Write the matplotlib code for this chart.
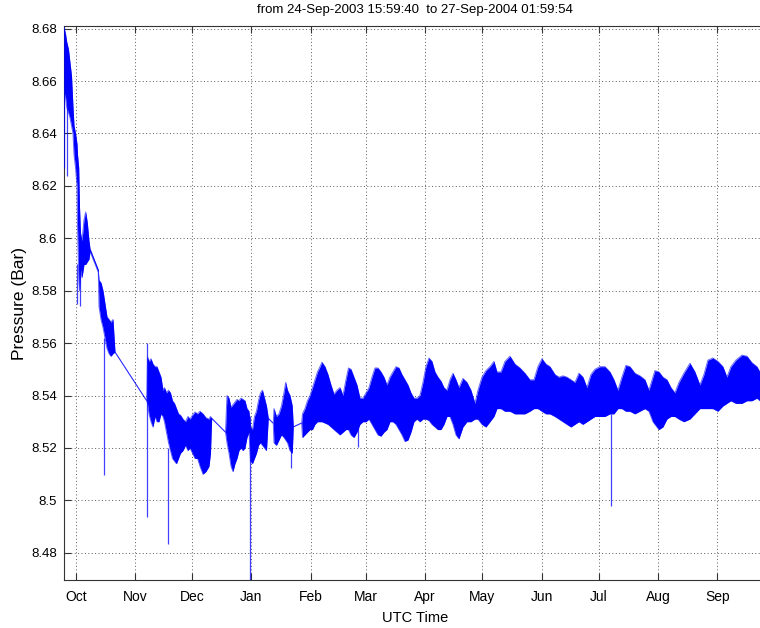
import numpy as np
import matplotlib
matplotlib.use("Agg")
import matplotlib.pyplot as plt

plt.rcParams['font.family'] = ['Liberation Sans', 'DejaVu Sans']

# Record start / end
record_start = '2003-09-24T15:59:40'
record_end = '2004-09-27T01:59:54'

# Elapsed days since record start, with the upper / lower envelope of the
# pressure signal (bar). Equal upper/lower values mark edges of data gaps.
elapsed_days = [
    0.05, 1.00, 1.62, 2.57, 3.35, 4.14, 4.92, 5.45, 6.23, 7.02, 7.28, 7.91, 8.33,
    8.85, 9.64, 10.68, 11.57, 12.41, 13.30, 13.83,
    18.17, 18.54, 19.59, 20.63, 21.68, 22.73, 23.78, 24.82, 25.87, 26.92,
    43.52, 43.94, 44.72, 45.77, 46.82, 47.87, 48.91, 49.96, 51.01, 52.06, 52.84,
    53.89, 54.94, 55.98, 57.03, 58.08, 59.13, 60.17, 61.22, 62.53, 63.84, 65.15,
    66.20, 67.50, 68.81, 70.12, 71.43, 73.00, 74.57, 76.15, 76.93, 77.56,
    84.79, 85.57, 86.62, 87.67, 88.71, 89.76, 90.81, 91.86, 92.90, 93.95, 95.00,
    96.05, 97.09, 97.88, 98.93, 99.97, 101.02, 102.07, 103.12, 104.16, 105.21,
    106.26, 107.20,
    109.82, 110.19, 111.49, 112.80, 114.11, 115.42, 116.31, 117.26, 118.57,
    119.77, 120.29,
    124.69, 125.11, 126.42, 127.73, 129.04, 130.35, 131.66, 132.97, 134.28,
    135.32, 136.89, 138.47, 140.04, 141.61, 143.18, 144.75, 146.32, 147.89,
    149.20, 150.51, 152.08, 153.65, 155.22, 156.80, 158.37, 159.94, 161.51,
    163.08, 164.65, 166.22, 167.79, 169.36, 170.94, 172.51, 174.08, 175.65,
    177.22, 178.79, 180.36, 181.93, 183.50, 185.07, 186.65, 188.22, 189.79,
    191.36, 192.93, 194.50, 196.07, 197.64, 199.22, 200.79, 202.36, 203.93,
    205.50, 207.07, 209.17, 211.26, 213.35, 215.45, 217.02, 219.12, 221.21,
    223.31, 225.40, 226.97, 229.07, 231.16, 233.78, 236.40, 239.02, 241.64,
    244.25, 246.35, 248.44, 250.54, 252.63, 254.73, 257.35, 259.44, 261.54,
    263.63, 265.73, 267.82, 269.92, 272.01, 274.10, 276.20, 278.29, 280.91,
    283.53, 286.15, 288.24, 290.34, 292.43, 294.53, 296.62, 299.24, 301.86,
    304.48, 306.57, 308.67, 309.72, 311.81, 313.91, 316.00, 318.10, 320.19,
    322.29, 324.90, 328.05, 330.66, 333.28, 335.38, 337.47, 340.09, 342.71,
    345.33, 347.42, 349.52, 352.14, 355.28, 357.90, 360.52, 363.13, 364.70,
    368.37,
]

pressure_high = [
    8.681, 8.678, 8.675, 8.672, 8.667, 8.662, 8.650, 8.643, 8.640, 8.636, 8.632,
    8.627, 8.612, 8.602, 8.599, 8.607, 8.610, 8.606, 8.599, 8.596,
    8.588, 8.584, 8.583, 8.580, 8.575, 8.570, 8.569, 8.568, 8.569, 8.5566,
    8.538, 8.5547, 8.553, 8.554, 8.552, 8.551, 8.551, 8.549, 8.547, 8.542, 8.543,
    8.541, 8.542, 8.541, 8.538, 8.537, 8.535, 8.533, 8.5325, 8.531, 8.530, 8.532,
    8.531, 8.5325, 8.5337, 8.533, 8.534, 8.533, 8.5315, 8.531, 8.532, 8.5313,
    8.526, 8.540, 8.539, 8.5355, 8.5365, 8.5375, 8.5385, 8.538, 8.539, 8.5385,
    8.538, 8.535, 8.534, 8.528, 8.527, 8.532, 8.534, 8.538, 8.541, 8.542, 8.539,
    8.536, 8.5313,
    8.5294, 8.535, 8.532, 8.533, 8.536, 8.541, 8.545, 8.542, 8.540,
    8.536, 8.528,
    8.5295, 8.533, 8.535, 8.538, 8.540, 8.543, 8.546, 8.549, 8.551,
    8.5527, 8.551, 8.548, 8.544, 8.5405, 8.542, 8.543, 8.540, 8.546,
    8.5505, 8.550, 8.547, 8.544, 8.539, 8.539, 8.541, 8.543, 8.547,
    8.5505, 8.5505, 8.549, 8.547, 8.544, 8.547, 8.549, 8.551, 8.5505,
    8.548, 8.546, 8.544, 8.541, 8.539, 8.539, 8.540, 8.545, 8.551,
    8.5543, 8.553, 8.549, 8.547, 8.5455, 8.543, 8.542, 8.546, 8.5485,
    8.546, 8.543, 8.5465, 8.545, 8.542, 8.537, 8.542, 8.547, 8.5495,
    8.551, 8.553, 8.549, 8.549, 8.553, 8.555, 8.552, 8.5505, 8.5485,
    8.546, 8.546, 8.551, 8.554, 8.552, 8.551, 8.548, 8.547, 8.5475,
    8.547, 8.546, 8.545, 8.5485, 8.547, 8.543, 8.548, 8.550, 8.551,
    8.551, 8.549, 8.546, 8.542, 8.547, 8.5515, 8.551, 8.5485, 8.5475,
    8.546, 8.542, 8.547, 8.5495, 8.549, 8.547, 8.546, 8.543, 8.541,
    8.545, 8.5485, 8.5523, 8.549, 8.544, 8.548, 8.5535, 8.5543, 8.553,
    8.551, 8.547, 8.551, 8.5535, 8.5554, 8.555, 8.5525, 8.551, 8.549,
    8.548,
]

pressure_low = [
    8.656, 8.654, 8.650, 8.648, 8.646, 8.643, 8.640, 8.632, 8.627, 8.620, 8.605,
    8.585, 8.580, 8.588, 8.585, 8.590, 8.590, 8.591, 8.592, 8.595,
    8.587, 8.574, 8.569, 8.566, 8.562, 8.558, 8.556, 8.555, 8.556, 8.5566,
    8.538, 8.537, 8.533, 8.530, 8.528, 8.532, 8.530, 8.530, 8.533, 8.532, 8.530,
    8.526, 8.522, 8.519, 8.516, 8.515, 8.514, 8.516, 8.518, 8.519, 8.521, 8.519,
    8.520, 8.518, 8.516, 8.516, 8.513, 8.510, 8.511, 8.513, 8.518, 8.5313,
    8.526, 8.522, 8.518, 8.513, 8.511, 8.514, 8.516, 8.519, 8.520, 8.519,
    8.520, 8.524, 8.526, 8.515, 8.514, 8.516, 8.518, 8.521, 8.522, 8.521, 8.520,
    8.519, 8.5313,
    8.5294, 8.522, 8.521, 8.523, 8.525, 8.524, 8.523, 8.522, 8.519,
    8.518, 8.528,
    8.5295, 8.524, 8.525, 8.526, 8.527, 8.527, 8.529, 8.530, 8.530,
    8.530, 8.5295, 8.529, 8.528, 8.527, 8.526, 8.525, 8.526, 8.527,
    8.527, 8.525, 8.524, 8.526, 8.529, 8.530, 8.530, 8.531, 8.529,
    8.527, 8.525, 8.5245, 8.526, 8.527, 8.530, 8.530, 8.529, 8.527,
    8.525, 8.5225, 8.523, 8.526, 8.530, 8.531, 8.530, 8.531, 8.531,
    8.5305, 8.529, 8.528, 8.527, 8.527, 8.529, 8.532, 8.532, 8.529,
    8.525, 8.5235, 8.528, 8.530, 8.530, 8.531, 8.531, 8.529, 8.528,
    8.530, 8.532, 8.535, 8.535, 8.534, 8.534, 8.533, 8.533, 8.533,
    8.534, 8.535, 8.535, 8.534, 8.533, 8.533, 8.532, 8.531, 8.530,
    8.529, 8.528, 8.529, 8.530, 8.529, 8.530, 8.531, 8.532, 8.532,
    8.532, 8.533, 8.533, 8.535, 8.535, 8.534, 8.534, 8.533, 8.534,
    8.535, 8.534, 8.530, 8.529, 8.527, 8.528, 8.531, 8.532, 8.532,
    8.531, 8.530, 8.531, 8.533, 8.535, 8.535, 8.535, 8.535, 8.534,
    8.536, 8.537, 8.538, 8.537, 8.537, 8.538, 8.538, 8.539, 8.538,
    8.538,
]

# Isolated short excursions (elapsed days, upper value, lower value)
spike_days = [0.37, 1.62, 7.17, 8.75, 21.31, 43.94, 54.52, 97.62, 119.09, 154.18, 286.52]
spike_top = [8.655, 8.650, 8.590, 8.590, 8.562, 8.560, 8.520, 8.532, 8.522, 8.528, 8.533]
spike_bottom = [8.627, 8.6236, 8.575, 8.574, 8.5095, 8.4935, 8.4834, 8.460, 8.5123, 8.5202, 8.4979]

month_ticks = ['2003-10-01', '2003-11-01', '2003-12-01', '2004-01-01', '2004-02-01',
               '2004-03-01', '2004-04-01', '2004-05-01', '2004-06-01', '2004-07-01',
               '2004-08-01', '2004-09-01']
month_labels = ['Oct', 'Nov', 'Dec', 'Jan', 'Feb', 'Mar', 'Apr', 'May', 'Jun', 'Jul',
                'Aug', 'Sep']
pressure_ticks = [8.48, 8.50, 8.52, 8.54, 8.56, 8.58, 8.60, 8.62, 8.64, 8.66, 8.68]
pressure_labels = ['8.48', '8.5', '8.52', '8.54', '8.56', '8.58', '8.6', '8.62', '8.64',
                   '8.66', '8.68']

t0 = np.datetime64(record_start)
t1 = np.datetime64(record_end)


def to_time(days):
    secs = np.round(np.asarray(days) * 86400.0).astype('int64')
    return t0 + secs.astype('timedelta64[s]')


t = to_time(elapsed_days)
ts = to_time(spike_days)

fig = plt.figure(figsize=(7.6, 6.28), dpi=100)
ax = fig.add_axes([63.6 / 760, 48 / 628, 703.4 / 760, 554 / 628])

blue = (0.0, 0.0, 1.0)
ax.fill_between(t, pressure_low, pressure_high, color=blue, linewidth=0, zorder=3)
ax.plot(t, pressure_high, color=blue, lw=0.7, alpha=0.6, zorder=3)
ax.plot(t, pressure_low, color=blue, lw=0.7, alpha=0.6, zorder=3)
ax.vlines(ts, spike_bottom, spike_top, color=blue, lw=0.9, alpha=0.75, zorder=3)

ax.set_xlim(t0, t1)
ax.set_ylim(8.4696, 8.681)

ax.set_xticks(np.array(month_ticks, dtype='datetime64[D]'))
ax.set_xticklabels(month_labels)
ax.set_yticks(pressure_ticks)
ax.set_yticklabels(pressure_labels)

ax.tick_params(direction='in', length=5, width=0.8, top=True, right=True,
               color='0.2', labelcolor='black')
ax.tick_params(axis='x', labelsize=10, pad=7)
ax.tick_params(axis='y', labelsize=9.5, pad=5)

ax.grid(True, color='0.35', linestyle=(0, (1, 2.5)), linewidth=0.7, zorder=0)
ax.set_axisbelow(True)
for s in ax.spines.values():
    s.set_color('0.2')
    s.set_linewidth(0.8)

ax.set_title('from 24-Sep-2003 15:59:40  to 27-Sep-2004 01:59:54', fontsize=9.5, pad=9)
ax.set_xlabel('UTC Time', fontsize=10.5, labelpad=5)
ax.set_ylabel('Pressure (Bar)', fontsize=12.5, labelpad=3)

fig.savefig('out.png', dpi=100)
